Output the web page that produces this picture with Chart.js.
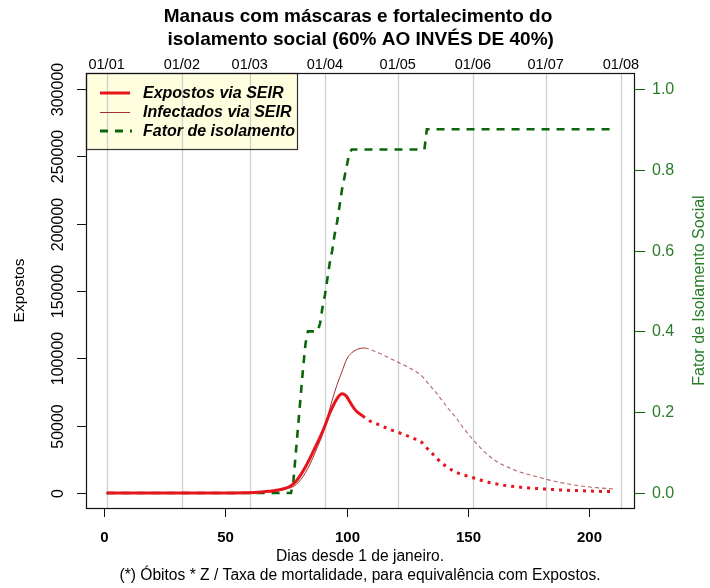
<!DOCTYPE html>
<html>
<head>
<meta charset="utf-8">
<script src="https://cdn.jsdelivr.net/npm/chart.js@4"></script>
<style>
html,body{margin:0;padding:0;background:#fff;}
canvas{display:block;}
</style>
</head>
<body>
<canvas id="c" width="710" height="588"></canvas>
<script>
// ---- Data ----
const titleLines = ['Manaus com máscaras e fortalecimento do', ' isolamento social (60% AO INVÉS DE 40%)'];
const xTitle = 'Dias desde 1 de janeiro.';
const footnote = '(*) Óbitos * Z / Taxa de mortalidade, para equivalência com Expostos.';
const yTitle = 'Expostos';
const y2Title = 'Fator de Isolamento Social';
const legendLabels = ['Expostos via SEIR', 'Infectados via SEIR', 'Fator de isolamento'];

const monthLabels = ['01/01', '01/02', '01/03', '01/04', '01/05', '01/06', '01/07', '01/08'];
const monthDays = [1, 32, 60, 91, 121, 152, 182, 213];
const xTicks = [0, 50, 100, 150, 200];
const yTicks = [0, 50000, 100000, 150000, 200000, 250000, 300000];
const y2Ticks = [0, 0.2, 0.4, 0.6, 0.8, 1.0];
const y2TickLabels = ['0.0', '0.2', '0.4', '0.6', '0.8', '1.0'];

// Expostos via SEIR (solid part)
const expDays = [1, 30, 50, 58, 62, 65, 68, 71, 74, 77, 79, 81, 83, 85, 87, 89, 91, 93, 95, 96.5, 98, 99, 100, 101, 102, 103, 104, 105, 106.5];
const expVals = [0, 0, 50, 200, 450, 800, 1300, 2000, 3200, 5500, 8600, 13500, 19500, 26500, 34000, 41500, 50000, 59400, 67000, 71500, 73700, 73200, 71500, 68500, 65500, 62800, 60700, 59200, 57400];
// Expostos via SEIR (dotted continuation)
const expProjDays = [106.5, 109, 112, 115, 118, 121, 124, 127, 129, 131, 133, 135, 137, 139, 141, 144, 147, 150, 155, 160, 165, 170, 175, 180, 185, 190, 195, 200, 205, 210];
const expProjVals = [57400, 54000, 51600, 49300, 47100, 45200, 43100, 41000, 39500, 37500, 33500, 29800, 26000, 22600, 19800, 16400, 14000, 12500, 9700, 7300, 5700, 4600, 3800, 3200, 2600, 2100, 1800, 1500, 1200, 1000];

// Infectados via SEIR (solid part)
const infDays = [1, 30, 55, 62, 67, 71, 75, 78.5, 80, 82, 84, 86, 88, 90, 92, 94, 96, 98, 100, 102, 104, 106, 107.5];
const infVals = [0, 0, 80, 300, 700, 1500, 3000, 5400, 7800, 12300, 18500, 26000, 34500, 43500, 56000, 69000, 80500, 90000, 99500, 104000, 106400, 107500, 107700];
// Infectados via SEIR (dashed continuation)
const infProjDays = [107.5, 110, 113, 116, 119, 122, 125, 128, 131, 133, 135, 137, 139, 142, 145, 148, 151, 154, 157, 160, 163, 166, 170, 175, 180, 185, 190, 195, 200, 205, 210];
const infProjVals = [107700, 106400, 104200, 101600, 99000, 96300, 93700, 90700, 86800, 82500, 78200, 74200, 69400, 62400, 56000, 48500, 41800, 35800, 30200, 25700, 22100, 19500, 16400, 13700, 11300, 9000, 7200, 5600, 4500, 3700, 3000];

// Fator de isolamento (right axis)
const fatorDays = [1, 77, 78, 79, 80, 81, 82, 83, 84, 88, 89, 90, 91, 92, 93, 94, 95, 96, 97, 98, 99, 100, 101, 102, 132, 133, 209];
const fatorVals = [0, 0, 0.03, 0.10, 0.17, 0.24, 0.31, 0.37, 0.40, 0.40, 0.42, 0.46, 0.49, 0.53, 0.57, 0.60, 0.64, 0.67, 0.71, 0.75, 0.78, 0.81, 0.84, 0.85, 0.85, 0.90, 0.90];

// ---- styles ----
const RED = '#e8141b';
const BROWN = '#a3302f';
const BROWN_LIGHT = '#b06666';
const GREEN = '#0b660b';
const GREEN_TXT = '#2a7d2a';
const FONT = '"Liberation Sans", Arial, sans-serif';

const pts = (xs, ys) => xs.map((x, i) => ({x: x, y: ys[i]}));

const decor = {
  id: 'decor',
  beforeDraw(chart) {
    const ctx = chart.ctx;
    ctx.save();
    ctx.fillStyle = '#fff';
    ctx.fillRect(0, 0, chart.width, chart.height);
    ctx.restore();
  },
  beforeDatasetsDraw(chart) {
    const ctx = chart.ctx, a = chart.chartArea, xs = chart.scales.x;
    ctx.save();
    // legend background
    ctx.fillStyle = '#ffffe0';
    ctx.fillRect(a.left, a.top, 211, 76);
    // month grid lines
    ctx.strokeStyle = '#cfcfcf';
    ctx.lineWidth = 1.3;
    monthDays.forEach(d => {
      const px = Math.round(xs.getPixelForValue(d)) + 0.5;
      ctx.beginPath(); ctx.moveTo(px, a.top); ctx.lineTo(px, a.bottom); ctx.stroke();
    });
    ctx.restore();
  },
  afterDatasetsDraw(chart) {
    const ctx = chart.ctx, a = chart.chartArea;
    const xs = chart.scales.x, ys = chart.scales.y, y2 = chart.scales.y2;
    ctx.save();
    // legend
    ctx.strokeStyle = '#333'; ctx.lineWidth = 1.2;
    ctx.strokeRect(a.left + 0.5, a.top + 0.5, 211, 76);
    const ly = [a.top + 20, a.top + 39, a.top + 58];
    const lx0 = a.left + 14, lx1 = a.left + 44;
    ctx.lineCap = 'butt';
    ctx.strokeStyle = RED; ctx.lineWidth = 3; ctx.setLineDash([]);
    ctx.beginPath(); ctx.moveTo(lx0, ly[0]); ctx.lineTo(lx1, ly[0]); ctx.stroke();
    ctx.strokeStyle = BROWN; ctx.lineWidth = 1;
    ctx.beginPath(); ctx.moveTo(lx0, ly[1] + 0.5); ctx.lineTo(lx1, ly[1] + 0.5); ctx.stroke();
    ctx.strokeStyle = GREEN; ctx.lineWidth = 3; ctx.setLineDash([8, 7]);
    ctx.beginPath(); ctx.moveTo(lx0, ly[2]); ctx.lineTo(lx1 + 2, ly[2]); ctx.stroke();
    ctx.setLineDash([]);
    ctx.fillStyle = '#000';
    ctx.font = 'italic bold 16px ' + FONT;
    ctx.textAlign = 'left'; ctx.textBaseline = 'middle';
    legendLabels.forEach((t, i) => ctx.fillText(t, a.left + 57, ly[i] + 1));

    // plot box
    ctx.strokeStyle = '#111'; ctx.lineWidth = 1.2;
    ctx.strokeRect(a.left + 0.5, a.top + 0.5, a.right - a.left, a.bottom - a.top);

    // left axis ticks + rotated labels
    ctx.font = '16px ' + FONT;
    ctx.fillStyle = '#000'; ctx.strokeStyle = '#111'; ctx.lineWidth = 1;
    yTicks.forEach(v => {
      const py = Math.round(ys.getPixelForValue(v)) + 0.5;
      ctx.beginPath(); ctx.moveTo(a.left - 9, py); ctx.lineTo(a.left, py); ctx.stroke();
      ctx.save();
      ctx.translate(59, py); ctx.rotate(-Math.PI / 2);
      ctx.textAlign = 'center'; ctx.textBaseline = 'middle';
      ctx.fillText(String(v), 0, 0);
      ctx.restore();
    });
    ctx.save();
    ctx.translate(20, (a.top + a.bottom) / 2); ctx.rotate(-Math.PI / 2);
    ctx.textAlign = 'center'; ctx.textBaseline = 'middle';
    ctx.font = '15.5px ' + FONT;
    ctx.fillText(yTitle, 0, 0);
    ctx.restore();

    // right axis
    ctx.strokeStyle = GREEN; ctx.fillStyle = GREEN_TXT;
    ctx.font = '16px ' + FONT;
    y2Ticks.forEach((v, i) => {
      const py = Math.round(y2.getPixelForValue(v)) + 0.5;
      ctx.beginPath(); ctx.moveTo(a.right, py); ctx.lineTo(a.right + 11, py); ctx.stroke();
      ctx.textAlign = 'left'; ctx.textBaseline = 'middle';
      ctx.fillText(y2TickLabels[i], a.right + 18, py);
    });
    ctx.save();
    ctx.translate(700, (a.top + a.bottom) / 2); ctx.rotate(-Math.PI / 2);
    ctx.textAlign = 'center'; ctx.textBaseline = 'middle';
    ctx.font = '16px ' + FONT;
    ctx.fillText(y2Title, 0, 0);
    ctx.restore();

    // bottom axis
    ctx.strokeStyle = '#111'; ctx.fillStyle = '#000';
    ctx.font = 'bold 15px ' + FONT;
    xTicks.forEach(v => {
      const px = Math.round(xs.getPixelForValue(v)) + 0.5;
      ctx.beginPath(); ctx.moveTo(px, a.bottom); ctx.lineTo(px, a.bottom + 9); ctx.stroke();
      ctx.textAlign = 'center'; ctx.textBaseline = 'middle';
      ctx.fillText(String(v), px, a.bottom + 30);
    });
    ctx.font = '15.6px ' + FONT;
    ctx.fillText(xTitle, (a.left + a.right) / 2, a.bottom + 49);
    ctx.fillText(footnote, (a.left + a.right) / 2, a.bottom + 68);

    // top axis month labels
    ctx.font = '14.5px ' + FONT;
    ctx.textBaseline = 'alphabetic';
    monthDays.forEach((d, i) => {
      const px = xs.getPixelForValue(d);
      ctx.fillText(monthLabels[i], px, a.top - 4);
    });

    // title
    ctx.font = 'bold 19px ' + FONT;
    ctx.textBaseline = 'middle';
    ctx.fillText(titleLines[0], (a.left + a.right) / 2 - 2, 17);
    ctx.fillText(titleLines[1], (a.left + a.right) / 2 - 2, 40);
    ctx.restore();
  }
};

new Chart(document.getElementById('c'), {
  type: 'line',
  data: {
    datasets: [
      {label: legendLabels[0], data: pts(expDays, expVals), borderColor: RED, borderWidth: 3,
       pointRadius: 0, cubicInterpolationMode: 'monotone', yAxisID: 'y'},
      {label: legendLabels[0] + ' (proj)', data: pts(expProjDays, expProjVals), borderColor: RED, borderWidth: 3,
       borderDash: [3, 5], borderCapStyle: 'butt', pointRadius: 0, cubicInterpolationMode: 'monotone', yAxisID: 'y'},
      {label: legendLabels[1], data: pts(infDays, infVals), borderColor: BROWN, borderWidth: 1,
       pointRadius: 0, cubicInterpolationMode: 'monotone', yAxisID: 'y'},
      {label: legendLabels[1] + ' (proj)', data: pts(infProjDays, infProjVals), borderColor: BROWN_LIGHT, borderWidth: 1.1,
       borderDash: [4, 3], pointRadius: 0, cubicInterpolationMode: 'monotone', yAxisID: 'y'},
      {label: legendLabels[2], data: pts(fatorDays, fatorVals), borderColor: GREEN, borderWidth: 2.6,
       borderDash: [8, 7], pointRadius: 0, tension: 0, yAxisID: 'y2'}
    ]
  },
  options: {
    responsive: false,
    animation: false,
    devicePixelRatio: 1,
    events: [],
    layout: {padding: {left: 86, right: 76, top: 73, bottom: 80}},
    plugins: {legend: {display: false}, title: {display: false}, tooltip: {enabled: false}},
    scales: {
      x: {type: 'linear', min: -7.5, max: 218.4, display: false},
      y: {type: 'linear', min: -11100, max: 311800, display: false},
      y2: {type: 'linear', position: 'right', min: -0.0371, max: 1.0393, display: false}
    }
  },
  plugins: [decor]
});
</script>
</body>
</html>
